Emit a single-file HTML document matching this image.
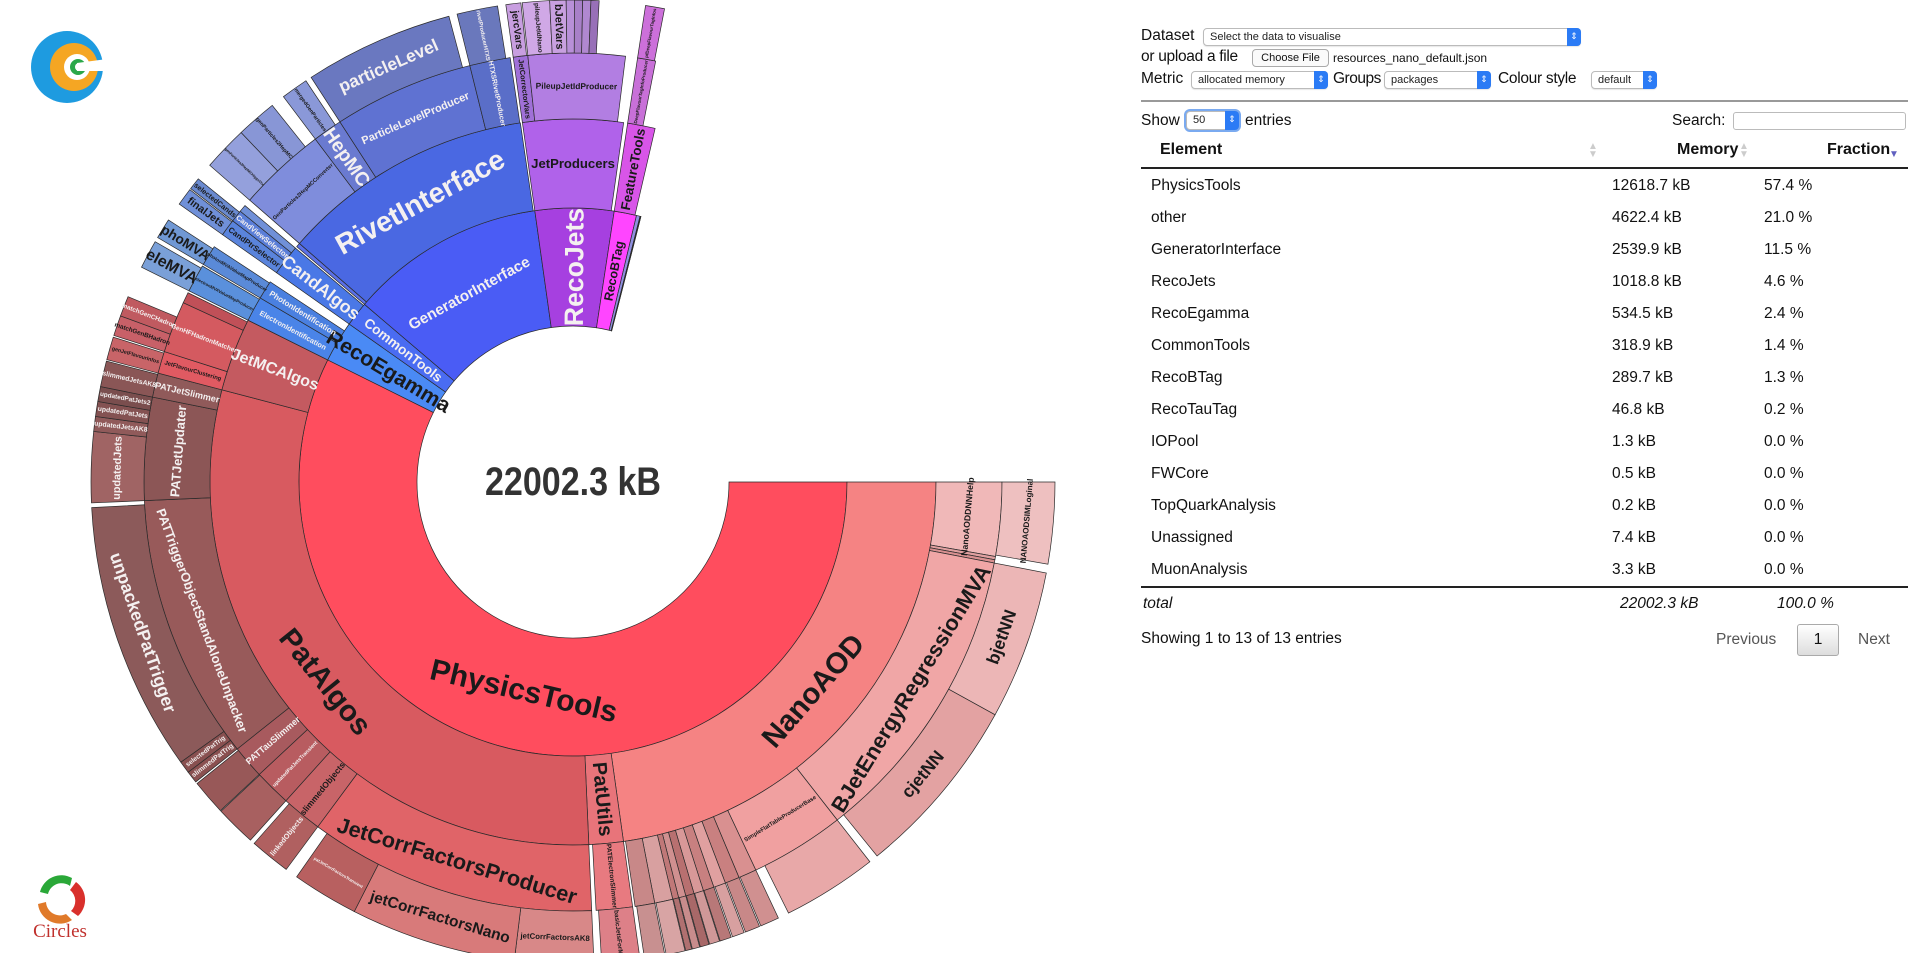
<!DOCTYPE html>
<html><head><meta charset="utf-8">
<style>
*{box-sizing:border-box}
body{margin:0;width:1912px;height:953px;overflow:hidden;background:#fff;font-family:"Liberation Sans",sans-serif;color:#111;position:relative}
.abs{position:absolute;white-space:nowrap}
.lbl{font-size:15.5px}
.sel{position:absolute;border:1px solid #bbb;border-radius:4px;background:#fff;font-size:11px;padding-left:6px;line-height:16px;color:#222;box-shadow:0 1px 1px rgba(0,0,0,.1)}
.sel .arr{position:absolute;right:-1px;top:-1px;bottom:-1px;width:14px;background:#2b7bf5;border-radius:0 4px 4px 0;color:#fff;font-size:9px;text-align:center;line-height:16px}
.row{position:absolute;left:1141px;width:767px;height:32px;font-size:15.5px}
.row span{position:absolute;top:8px}
</style></head><body>
<svg id="sb" width="1130" height="953" style="position:absolute;left:0;top:0">
  <g id="segs"></g><g id="labels"></g>
  <text x="573" y="495" text-anchor="middle" font-family="Liberation Sans Narrow, Liberation Sans, sans-serif" font-weight="bold" font-size="40" fill="#333" textLength="176" lengthAdjust="spacingAndGlyphs">22002.3 kB</text>
  <g transform="translate(67,67)">
    <circle r="36" fill="#1e9be0"/><circle cx="7" r="24" fill="#f5a623"/><circle cx="10" r="13" fill="#fff"/><circle cx="11" r="8" fill="#2ba84a"/><circle cx="12" r="4" fill="#fff"/>
    <path d="M10,-4 L40,-8 L40,4 L10,4Z" fill="#fff"/>
  </g>
  <g transform="translate(60,900)">
    <path d="M-20,-8 A22,22 0 0 1 12,-22 L10,-14 A14,14 0 0 0 -12,-6Z" fill="#2aa838"/>
    <path d="M16,-18 A22,22 0 0 1 18,16 L11,11 A14,14 0 0 0 10,-10Z" fill="#d9302c"/>
    <path d="M12,20 A22,22 0 0 1 -22,4 L-14,2 A14,14 0 0 0 6,14Z" fill="#e07a2a"/>
    <text x="0" y="37" text-anchor="middle" font-family="Liberation Serif, serif" font-size="19" fill="#c0302c">Circles</text>
  </g>
</svg>

<div class="abs lbl" style="left:1141px;top:27px">Dataset</div>
<div class="sel" style="left:1203px;top:28px;width:378px;height:18px">Select the data to visualise<span class="arr">⇕</span></div>
<div class="abs lbl" style="left:1141px;top:48px;letter-spacing:-0.3px">or upload a file</div>
<div class="abs" style="left:1252px;top:49px;width:77px;height:18px;border:1px solid #aaa;border-radius:4px;font-size:11px;text-align:center;line-height:16px;background:#fafafa">Choose File</div>
<div class="abs" style="left:1333px;top:51px;font-size:12px">resources_nano_default.json</div>
<div class="abs lbl" style="left:1141px;top:70px">Metric</div>
<div class="sel" style="left:1191px;top:71px;width:137px;height:18px">allocated memory<span class="arr">⇕</span></div>
<div class="abs lbl" style="left:1333px;top:70px;letter-spacing:-0.5px">Groups</div>
<div class="sel" style="left:1384px;top:71px;width:107px;height:18px">packages<span class="arr">⇕</span></div>
<div class="abs lbl" style="left:1498px;top:70px;letter-spacing:-0.3px">Colour style</div>
<div class="sel" style="left:1591px;top:71px;width:66px;height:18px">default<span class="arr">⇕</span></div>
<div class="abs" style="left:1141px;top:100px;width:767px;height:2px;background:#999"></div>

<div class="abs lbl" style="left:1141px;top:112px">Show</div>
<div class="sel" style="left:1186px;top:111px;width:53px;height:19px;box-shadow:0 0 0 2px #7aaaf0">50<span class="arr">⇕</span></div>
<div class="abs lbl" style="left:1245px;top:112px">entries</div>
<div class="abs lbl" style="left:1672px;top:112px">Search:</div>
<div class="abs" style="left:1733px;top:112px;width:173px;height:18px;border:1px solid #bbb;border-radius:3px"></div>

<div class="abs" style="left:1160px;top:141px;font-weight:bold;font-size:16px">Element</div>
<div class="abs" style="left:1588px;top:143px;font-size:10px;color:#ccc;line-height:8px">▲<br>▼</div>
<div class="abs" style="left:1677px;top:141px;font-weight:bold;font-size:16px">Memory</div>
<div class="abs" style="left:1739px;top:143px;font-size:10px;color:#ccc;line-height:8px">▲<br>▼</div>
<div class="abs" style="left:1827px;top:141px;font-weight:bold;font-size:16px">Fraction</div>
<div class="abs" style="left:1889px;top:149px;font-size:10px;color:#6060c0">▼</div>
<div class="abs" style="left:1141px;top:167px;width:767px;height:2px;background:#222"></div>
<div id="rows"></div>
<div class="abs" style="left:1141px;top:586px;width:767px;height:2px;background:#222"></div>
<div class="abs" style="left:1141px;top:595px;width:767px;height:20px;font-style:italic;font-size:15.5px">
 <span style="position:absolute;left:2px">total</span><span style="position:absolute;left:479px">22002.3 kB</span><span style="position:absolute;left:636px">100.0 %</span></div>
<div class="abs" style="left:1141px;top:630px;font-size:15.5px">Showing 1 to 13 of 13 entries</div>
<div class="abs" style="left:1716px;top:631px;font-size:15.5px;color:#555">Previous</div>
<div class="abs" style="left:1797px;top:624px;width:42px;height:32px;border:1px solid #aaa;border-radius:3px;background:linear-gradient(#fff,#ddd);text-align:center;line-height:30px;font-size:15.5px">1</div>
<div class="abs" style="left:1858px;top:631px;font-size:15.5px;color:#555">Next</div>

<script>
// Table data (package level)
const pkgNames=["PhysicsTools","other","GeneratorInterface","RecoJets","RecoEgamma","CommonTools","RecoBTag","RecoTauTag","IOPool","FWCore","TopQuarkAnalysis","Unassigned","MuonAnalysis"];
const pkgValues=[12618.7,4622.4,2539.9,1018.8,534.5,318.9,289.7,46.8,1.3,0.5,0.2,7.4,3.3];
const totalValue=22002.3;

const rowsEl=document.getElementById('rows');
pkgNames.forEach((n,i)=>{
  const r=document.createElement('div');
  r.className='row';
  r.style.top=(169+i*32)+'px';
  
  
  r.innerHTML='<span style="left:10px">'+n+'</span><span style="left:471px">'+pkgValues[i].toFixed(1)+' kB</span><span style="left:623px">'+(pkgValues[i]/totalValue*100).toFixed(1)+' %</span>';
  rowsEl.appendChild(r);
});

// Sunburst hierarchy
const nodeNames=["PhysicsTools","RecoEgamma","CommonTools","GeneratorInterface","RecoJets","RecoBTag","RecoTauTag","Unassigned","MuonAnalysis","IOPool",
"NanoAOD","PatUtils","PatAlgos","JetMCAlgos",
"NanoAODDNNHelp","s1","s2","BJetEnergyRegressionMVA","SimpleFlatTableProducerBase","n1","n2","n3","n4","n5","n6","n7","n8","n9","n10",
"NANOAODSIMLoginal","bjetNN","cjetNN",
"PATElectronSlimmer","basicJetsForMet",
"JetCorrFactorsProducer","slimmedObjects","updatedPatJetsTransient","PATTauSlimmer","PATTriggerObjectStandAloneUnpacker","PATJetUpdater","PATJetSlimmer",
"jetCorrFactorsAK8","jetCorrFactorsNano","patJetCorrFactorsTransient","linkedObjects","slimmedPatTrig","selectedPatTrig","unpackedPatTrigger","updatedJets","updatedJetsAK8","updatedPatJets","updatedPatJets2","slimmedJetsAK8",
"JetFlavourClustering","GenHFHadronMatcher","jm1","genJetFlavourInfos","matchGenBHadron","matchGenCHadron",
"ElectronIdentification","PhotonIdentification","electronMVAValueMapProducer","photonMVAValueMapProducer","eleMVA","phoMVA",
"CandAlgos","CandPtrSelector","CandViewSelector","finalJets","selectedCands",
"g1","RivetInterface","GenParticles2HepMCConverter","HepMC","ParticleLevelProducer","HTXSRivetProducer","genParticles2HepMCHiggsVtx","genParticles2HepMC","mergedGenParticles","particleLevel","rivetProducerHTXS",
"JetProducers","JetCorrectorVars","PileupJetIdProducer","jercVars","pileupJetIdNano","bJetVars","p1","p2","p3","p4",
"FeatureTools","DeepFlavourTagInfoProducer","pfDeepFlavourTagInfos",
"sc1","nc1","nc2","nc3","nc4","nc5","nc6","nc7","nc8","nc9","nc10","uc1","tc1","cs1"];
const nodeParents=[-1,-1,-1,-1,-1,-1,-1,-1,-1,-1,
0,0,0,0,
10,10,10,10,10,10,10,10,10,10,10,10,10,10,10,
14,17,17,
11,32,
12,12,12,12,12,12,12,
34,34,34,35,38,38,38,39,39,39,39,40,
13,13,13,53,54,54,
1,1,59,60,61,62,
2,65,65,66,67,
3,3,71,71,71,71,72,72,73,74,75,
4,81,81,82,83,83,83,83,83,83,
5,91,92,
18,19,20,21,22,23,24,25,26,27,28,36,37,65];
const nodeValues=[12618.7,534.5,318.9,2539.9,1018.8,289.7,46.8,7.4,3.3,1.3,
5012,336,6552,718,
611,27,27,2512,782,150,120,100,90,80,70,60,50,150,163,
600,1100,1345,
300,280,
2384,336,306,275,2200,850,201,
580,1222,489,300,90,90,1986,520,110,110,110,190,
183,428,90,170,150,150,
245,183,230,170,210,150,
300,140,100,130,90,
40,2480,733,245,1161,336,330,300,200,1100,300,
980,120,800,110,200,120,60,60,60,60,
270,150,140,
700,140,110,90,85,75,65,55,45,140,150,300,260,60];
const nodeColors=["#ff4d5e","#4a8af5","#4a6cf2","#4a5cf5","#a640e0","#ff45ff","#9090e0","#bbb","#999","#aaa",
"#f58383","#e8747a","#d85a60","#c45a60",
"#f0b8b8","#e0a0a0","#d89090","#f0a6a6","#f0a0a0","#d99090","#c98080","#e0a0a0","#c88080","#d89898","#b87070","#d09090","#c07878","#d8a0a0","#c88888",
"#eec0c0","#ecb6b6","#e3a2a2",
"#e87a80","#dd8088",
"#e06468","#c86468","#b85c60","#a85a5e","#985a5a","#8c5656","#905a5a",
"#d88888","#d87a7a","#b86060","#b06060","#8a5050","#885050","#8c5a5a","#a06464","#905a5a","#845252","#7a4e4e","#8a5656",
"#e05a62","#d45a60","#c05058","#c86468","#c86068","#c05a60",
"#4a84e8","#4a80e0","#5a90dc","#5a8ad8","#7aa0d8","#7098d4",
"#4a78e6","#5a84dc","#5a7ed8","#7090d8","#6a8ad0",
"#5a70e8","#4a68e2","#7f8ddc","#6a7ad0","#5f72d2","#5a6ec8","#94a0dc","#8896d6","#8a98d8","#6a78c0","#6a78bc",
"#b062ea","#a070d8","#b27ee2","#c89ee0","#d0a8e6","#c8a0e0","#b890d8","#a880c8","#b088d0","#9870b8",
"#d855e8","#c870d8","#cc70da",
"#e8a8a8","#d09090","#c88888","#d8a0a0","#b87878","#d09898","#a86868","#c88c8c","#b07070","#d8a4a4","#c89090","#a86060","#985858","#7090d8"];

const cx=573,cy=482;
const radii=[156,274,363,429,482];
const NS='http://www.w3.org/2000/svg';
const segG=document.getElementById('segs'),labG=document.getElementById('labels');
const degPerUnit=360/totalValue;
function pt(r,a){const t=a*Math.PI/180;return [cx+r*Math.cos(t),cy+r*Math.sin(t)];}
function arcPath(r0,r1,a0,a1){
  const large=(a1-a0)>180?1:0;
  const p1=pt(r1,a0),p2=pt(r1,a1),p3=pt(r0,a1),p4=pt(r0,a0);
  return 'M'+p1.join(',')+' A'+r1+','+r1+' 0 '+large+' 1 '+p2.join(',')+' L'+p3.join(',')+' A'+r0+','+r0+' 0 '+large+' 0 '+p4.join(',')+'Z';
}
function lum(h){const c=parseInt(h.slice(1),16);return (0.299*(c>>16)+0.587*((c>>8)&255)+0.114*(c&255))/255;}
const startAng=[],depth=[],cursor={};
let rootCursor=0;
nodeNames.forEach((n,i)=>{
  const par=nodeParents[i];
  let a0;
  if(par<0){a0=rootCursor;rootCursor+=nodeValues[i]*degPerUnit;depth[i]=0;}
  else{if(cursor[par]===undefined)cursor[par]=startAng[par];a0=cursor[par];cursor[par]+=nodeValues[i]*degPerUnit;depth[i]=depth[par]+1;}
  startAng[i]=a0;
  const a1=a0+nodeValues[i]*degPerUnit;
  const d=depth[i];if(d>3)return;
  const r0=radii[d],r1=radii[d+1];
  const path=document.createElementNS(NS,'path');
  path.setAttribute('d',arcPath(r0,r1,a0,a1));
  path.setAttribute('fill',nodeColors[i]);
  path.setAttribute('stroke','#2a2a2a');
  path.setAttribute('stroke-width','0.7');
  
  
  segG.appendChild(path);
  if(/^[a-z]{1,2}\d+$/.test(n))return;
  const t=r1-r0,rm=(r0+r1)/2,span=a1-a0,arcLen=rm*span*Math.PI/180,m=(a0+a1)/2;
  let fs,rot;
  const len=n.length;
  if(arcLen>=t){fs=Math.min(t*0.33,30,arcLen*0.88/(len*0.5));rot=(m>0&&m<180)?m-90:m+90;}
  else{fs=Math.min(arcLen*0.7,30,t*0.9/(len*0.5));rot=(m>90&&m<270)?m+180:m;}
  if(fs<3.5)return;
  const lp=pt(rm,m);
  const tx=document.createElementNS(NS,'text');
  tx.setAttribute('x',lp[0]);tx.setAttribute('y',lp[1]);
  tx.setAttribute('transform','rotate('+rot+' '+lp[0]+' '+lp[1]+')');
  tx.setAttribute('text-anchor','middle');tx.setAttribute('dominant-baseline','central');
  tx.setAttribute('font-family','Liberation Sans Narrow, Liberation Sans, sans-serif');
  tx.setAttribute('font-weight','bold');tx.setAttribute('font-size',fs.toFixed(1));
  tx.setAttribute('fill',lum(nodeColors[i])<0.5?'#f4f0f0':'#1a1a1a');
  
  
  tx.textContent=n;
  labG.appendChild(tx);
});
</script>
</body></html>
